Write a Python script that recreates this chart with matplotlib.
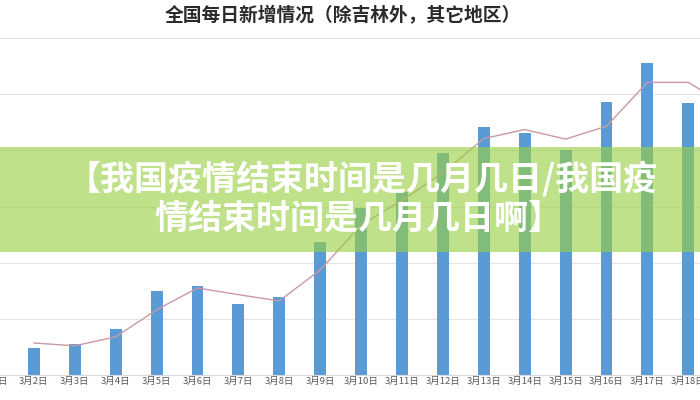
import matplotlib
matplotlib.use('Agg')
import matplotlib.pyplot as plt
from matplotlib.patches import Rectangle

plt.rcParams['font.family'] = ['Noto Sans CJK SC', 'DejaVu Sans']

# Data (gridline step taken as 100)
days = ['3月1日', '3月2日', '3月3日', '3月4日', '3月5日', '3月6日', '3月7日',
        '3月8日', '3月9日', '3月10日', '3月11日', '3月12日', '3月13日',
        '3月14日', '3月15日', '3月16日', '3月17日', '3月18日', '3月19日']
new_cases = [71, 48, 55, 82, 150, 159, 127, 138, 236, 298, 325, 396, 441,
             430, 400, 486, 555, 484, 470]
# trend line (2-day moving average as drawn), starts at 3月2日
trend = [None, 57, 52, 68, 116, 155, 143, 132, 187, 267, 311, 360, 421,
         437, 420, 443, 521, 521, 477]

title = '全国每日新增情况（除吉林外，其它地区）'
banner_lines = ['【我国疫情结束时间是几月几日/我国疫', '情结束时间是几月几日啊】']

fig = plt.figure(figsize=(7, 4), dpi=100)
ax = fig.add_axes([0, 0.0625, 1, 0.8425])

x = list(range(len(days)))
ax.bar(x, new_cases, width=0.29, color='#5b9bd5', zorder=2)
tx = [i for i, v in zip(x, trend) if v is not None]
ty = [v for v in trend if v is not None]
ax.plot(tx, ty, color='#c99aa2', lw=1.0, zorder=3)

ax.set_xticks(x)
ax.set_xticklabels(days, fontsize=6.8, color='#595959')
ax.set_yticks(range(0, 601, 100))
ax.set_yticklabels([])
# the picture is a crop: 3月1日 sits just off the left edge
ax.set_xlim(0.171, 17.286)
ax.set_ylim(0, 600)
ax.yaxis.grid(True, color='#e4e4e4', lw=0.8, zorder=0)
ax.tick_params(axis='x', length=0, pad=1.5)
ax.tick_params(axis='y', length=0)
for side in ['top', 'left', 'right']:
    ax.spines[side].set_visible(False)
ax.spines['bottom'].set_color('#d9d9d9')
ax.spines['bottom'].set_linewidth(0.8)

# the tick outside the view is dropped, so put its label back by hand
ax.annotate(days[0], xy=(0, 0), xycoords=('data', 'axes fraction'),
            xytext=(0, -1.5), textcoords='offset points', ha='center',
            va='top', fontsize=6.8, color='#595959', annotation_clip=False)

fig.text(0.49, 1 - 16 / 400, title, ha='center', va='center',
         fontsize=13.5, fontweight='bold', color='#2b2b2b')

# green banner on top of the chart
fig.patches.append(Rectangle((0, 1 - 252 / 400), 1, 105 / 400,
                             transform=fig.transFigure, color='#98d044',
                             alpha=0.63, zorder=5, lw=0))
fig.text(362 / 700, 1 - 179 / 400, banner_lines[0], ha='center', va='center',
         fontsize=24.5, fontweight='bold', color='white', zorder=6)
fig.text(358 / 700, 1 - 218 / 400, banner_lines[1], ha='center', va='center',
         fontsize=24.5, fontweight='bold', color='white', zorder=6)

fig.savefig('out.png', dpi=100)
